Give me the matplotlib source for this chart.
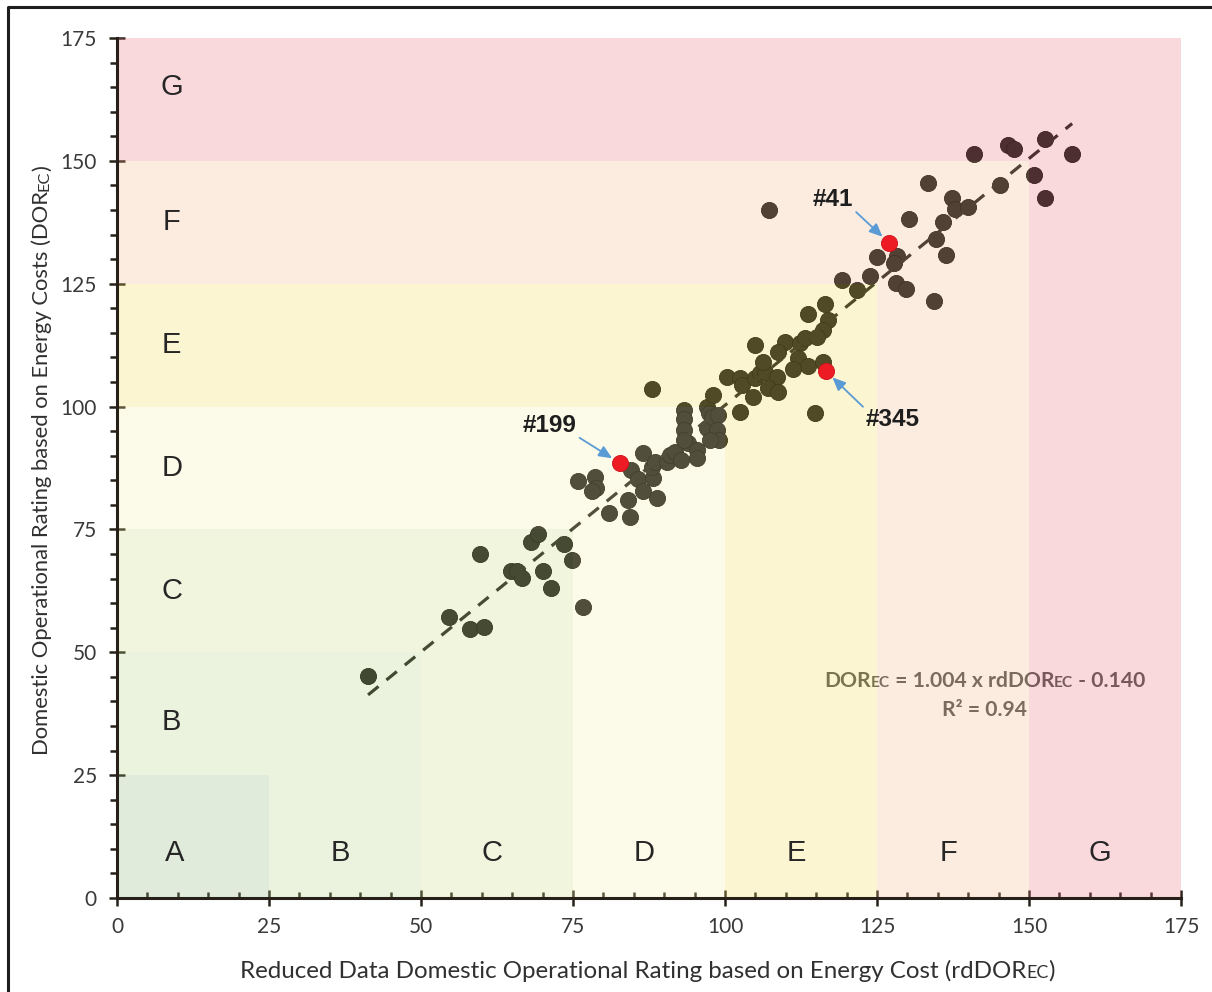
import numpy as np
import matplotlib
matplotlib.use("Agg")
import matplotlib.pyplot as plt
from matplotlib.lines import Line2D

plt.rcParams['font.family'] = ['Lato', 'DejaVu Sans']

# energy rating bands (upper bound of each grade)
grade_letters = ['A', 'B', 'C', 'D', 'E', 'F', 'G']
grade_bounds = [25, 50, 75, 100, 125, 150, 175]
grade_colors = ['#90b87d', '#b8d685', '#d2dd85', '#f7f0aa', '#f4dd58', '#f7b88c', '#e97681']

# rdDOR_EC (x) vs DOR_EC (y)
rd_dor = [41.3, 54.6, 58.1, 60.4, 59.7, 64.8, 65.8, 66.6, 68.1, 69.2, 70.1, 71.4, 73.5, 74.8, 76.6,
          75.8, 78.6, 78.8, 78.1, 80.9, 84.0, 84.4, 86.5, 84.5, 85.7, 86.5, 88.2, 88.8, 88.0, 88.5,
          90.5, 91.0, 91.8, 92.8, 93.9, 93.3, 93.3, 93.3, 93.3, 95.4, 95.4, 97.0, 97.4, 97.0, 97.9,
          98.8, 98.7, 99.0, 97.5, 98.0, 88.0,
          100.3, 102.5, 102.8, 102.5, 104.6, 104.9, 105.8, 106.6, 108.6, 107.1, 108.7, 109.9, 104.9,
          108.7, 112.3, 112.0, 113.7, 106.3, 111.2, 116.4, 113.7, 116.9, 116.1, 113.2, 115.1, 116.1,
          114.8, 107.2,
          119.2, 121.7, 123.8, 128.1, 129.8, 134.4, 125.0, 128.3, 127.8, 130.3, 135.9, 134.7, 136.3,
          133.4, 137.3, 137.8, 140.0, 145.2, 150.8, 152.6, 141.0, 146.5, 147.5, 152.6, 157.1]
dor = [45.2, 57.2, 54.7, 55.1, 70.0, 66.5, 66.5, 65.1, 72.4, 74.1, 66.5, 63.1, 72.0, 68.8, 59.2,
       84.9, 85.7, 83.4, 82.8, 78.3, 81.0, 77.5, 90.6, 87.1, 85.3, 82.8, 85.5, 81.4, 87.7, 88.7,
       88.7, 90.2, 90.8, 89.1, 92.6, 99.3, 97.5, 95.2, 93.2, 91.2, 89.5, 99.9, 98.7, 95.6, 97.9,
       98.3, 95.2, 93.2, 93.2, 102.4, 103.6,
       106.0, 105.8, 104.4, 98.9, 102.0, 105.8, 106.8, 107.0, 106.0, 103.8, 103.0, 113.1, 112.5,
       111.1, 112.9, 109.9, 108.3, 109.1, 107.7, 120.9, 118.8, 117.6, 115.6, 114.0, 114.2, 109.1,
       98.7, 140.0,
       125.8, 123.7, 126.6, 125.2, 123.9, 121.5, 130.4, 130.6, 129.2, 138.2, 137.6, 134.1, 130.8,
       145.5, 142.5, 140.2, 140.6, 145.1, 147.1, 142.5, 151.4, 153.2, 152.4, 154.5, 151.4]

# highlighted dwellings
hl_labels = ['#41', '#199', '#345']
hl_x = [127.0, 82.7, 116.6]
hl_y = [133.3, 88.5, 107.2]

# regression
slope = 1.004
intercept = -0.140
r2 = 0.94

fig = plt.figure(figsize=(12.12, 9.92), dpi=100)
ax = fig.add_axes([0.0965, 0.0948, 0.8779, 0.8669])

# points and trendline sit under the translucent bands
ax.scatter(rd_dor, dor, s=135, c='#141414', edgecolors='#000000', linewidths=0.6, zorder=1)
xf = np.array([min(rd_dor), max(rd_dor)])
ax.plot(xf, slope * xf + intercept, color='#151515', lw=2.3, dashes=(4.2, 3.2), zorder=1.5)

# small nudges for the letters on the left column
left_nudge = {'G': 2.5, 'B': -1.7}
lo = 0
for letter, hi, col in zip(grade_letters, grade_bounds, grade_colors):
    ax.fill([0, lo, lo, hi, hi, 0], [lo, lo, 0, 0, hi, hi], color=col, alpha=0.27, lw=0, zorder=2)
    mid = (lo + hi) / 2
    kw = dict(ha='center', va='center', fontsize=21, color='#262626',
              family=['Liberation Sans'], zorder=4)
    if lo == 0:
        ax.text(9.5, 9.2, letter, **kw)
    else:
        ax.text(9, mid + left_nudge.get(letter, 0), letter, **kw)
        ax.text(mid - 0.8, 9.2, letter, **kw)
    lo = hi

ax.scatter(hl_x, hl_y, s=135, c='#ed1c24', edgecolors='#d0101a', linewidths=0.6, zorder=3)

txt_pos = {'#41': (117.8, 142.2), '#199': (71.2, 96.1), '#345': (127.6, 97.3)}
relpos = {'#41': (1.0, 0.05), '#199': (1.0, 0.05), '#345': (0.0, 0.95)}
for lab, x, y in zip(hl_labels, hl_x, hl_y):
    ax.annotate(lab, xy=(x, y), xytext=txt_pos[lab], ha='center', va='center',
                fontsize=17.5, fontweight='bold', color='#1e1e1e', family=['Liberation Sans'],
                zorder=5,
                arrowprops=dict(arrowstyle='-|>,head_length=0.45,head_width=0.2', color='#5b9bd5',
                                lw=1.3, relpos=relpos[lab], shrinkA=0, shrinkB=6.5))


def chain(pieces, x, y, rotation=0, **kw):
    # text made of parts with different sizes (small caps like EC)
    prev = None
    for s, fs in pieces:
        common = dict(fontsize=fs, rotation=rotation, rotation_mode='anchor',
                      ha='left', va='baseline', **kw)
        if prev is None:
            prev = ax.text(x, y, s, transform=ax.transAxes, **common)
        elif rotation == 0:
            prev = ax.annotate(s, xy=(1, y), xycoords=(prev, ax.transAxes),
                               annotation_clip=False, **common)
        else:
            prev = ax.annotate(s, xy=(x, 1), xycoords=(ax.transAxes, prev),
                               annotation_clip=False, **common)


lab_col = '#303030'
chain([('Reduced Data Domestic Operational Rating based on Energy Cost (rdDOR', 17.4),
       ('EC', 12.9), (')', 17.4)], 0.1156, -0.093, color=lab_col)
chain([('Domestic Operational Rating based on Energy Costs (DOR', 15.8),
       ('EC', 11.8), (')', 15.8)], -0.0648, 0.1663, rotation=90, color=lab_col)

eq_col = '#4e4e4e'
chain([('DOR', 15.2), ('EC', 11.2), (f' = {slope:.3f} x rdDOR', 15.2), ('EC', 11.2),
       (f' - {abs(intercept):.3f}', 15.2)], 0.6645, 0.2453,
      color=eq_col, fontweight='bold', zorder=1.6)
ax.text(0.8158, 0.2116, f'R² = {r2:.2f}', transform=ax.transAxes, ha='center', va='baseline',
        fontsize=15.2, fontweight='bold', color=eq_col, zorder=1.6)

ax.set_xlim(0, 175)
ax.set_ylim(0, 175)
ax.set_xticks(np.arange(0, 176, 25))
ax.set_yticks(np.arange(0, 176, 25))
ax.set_xticks(np.arange(0, 176, 5), minor=True)
ax.set_yticks(np.arange(0, 176, 5), minor=True)
for side in ['top', 'right']:
    ax.spines[side].set_visible(False)
for side in ['left', 'bottom']:
    ax.spines[side].set_linewidth(2.2)
    ax.spines[side].set_color('#262018')
ax.tick_params(which='major', direction='inout', length=11, width=1.8, color='#262018',
               labelsize=15, labelcolor='#3a3a3a')
ax.tick_params(axis='x', which='major', pad=8)
ax.tick_params(axis='y', which='major', pad=9)
ax.tick_params(axis='x', which='minor', direction='in', length=4.5, width=1.8, color='#262018')
ax.tick_params(axis='y', which='minor', direction='out', length=5, width=1.8, color='#262018')

# outer frame (top and left edges visible)
fx = 8 / 1212
fy = 1 - 7 / 992
fig.add_artist(Line2D([fx, fx, 1], [0, fy, fy], transform=fig.transFigure,
                      color='#1e1e1e', lw=2.2))

fig.savefig('out.png', dpi=100)
